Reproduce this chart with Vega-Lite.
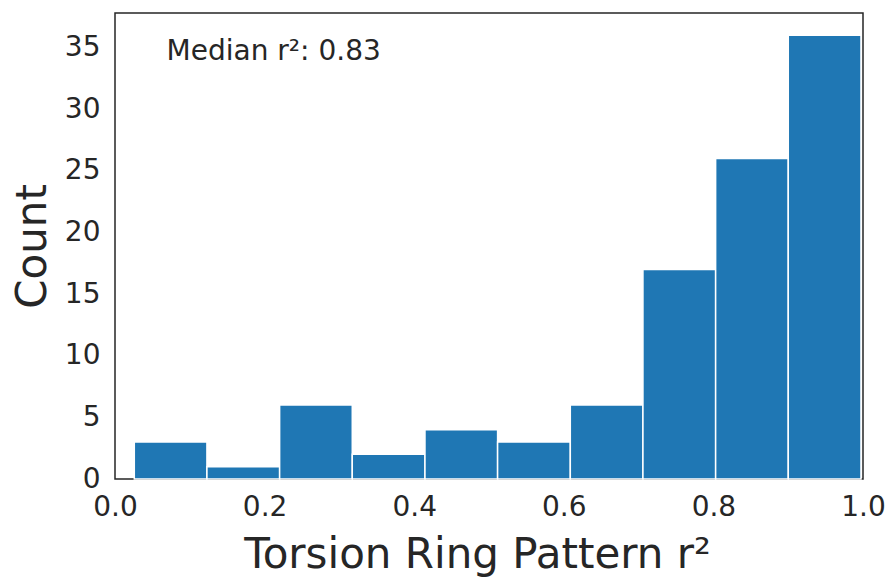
{
  "$schema": "https://vega.github.io/schema/vega-lite/v6.json",
  "autosize": "none",
  "width": 748,
  "height": 466,
  "padding": {"left": 115, "top": 13, "right": 28, "bottom": 98},
  "background": "white",
  "config": {
    "font": "DejaVu Sans",
    "view": {"stroke": "#262626", "strokeWidth": 1.5},
    "axis": {
      "domain": false,
      "grid": false,
      "ticks": false,
      "labelFlush": false,
      "labelOverlap": false,
      "labelFont": "DejaVu Sans",
      "labelFontSize": 28,
      "labelColor": "#262626",
      "titleFont": "DejaVu Sans",
      "titleFontSize": 42,
      "titleFontWeight": "normal",
      "titleColor": "#262626"
    }
  },
  "datasets": {
    "bins": [
      {"bin_start": 0.0258, "bin_end": 0.1229, "count": 3},
      {"bin_start": 0.1229, "bin_end": 0.2201, "count": 1},
      {"bin_start": 0.2201, "bin_end": 0.3172, "count": 6},
      {"bin_start": 0.3172, "bin_end": 0.4144, "count": 2},
      {"bin_start": 0.4144, "bin_end": 0.5115, "count": 4},
      {"bin_start": 0.5115, "bin_end": 0.6087, "count": 3},
      {"bin_start": 0.6087, "bin_end": 0.7058, "count": 6},
      {"bin_start": 0.7058, "bin_end": 0.8030, "count": 17},
      {"bin_start": 0.8030, "bin_end": 0.9001, "count": 26},
      {"bin_start": 0.9001, "bin_end": 0.9973, "count": 36}
    ],
    "note": [
      {"x": 0.069, "y": 34.6, "label": "Median r²: 0.83"}
    ]
  },
  "layer": [
    {
      "data": {"name": "bins"},
      "mark": {"type": "bar", "color": "#1f77b4", "stroke": "white", "strokeWidth": 1.5},
      "encoding": {
        "x": {
          "field": "bin_start",
          "type": "quantitative",
          "scale": {"domain": [0, 1], "nice": false, "zero": false},
          "axis": {
            "title": "Torsion Ring Pattern r²",
            "values": [0, 0.2, 0.4, 0.6, 0.8, 1.0],
            "format": ".1f",
            "labelPadding": 14,
            "titlePadding": 13,
            "titleX": 362
          }
        },
        "x2": {"field": "bin_end"},
        "y": {
          "field": "count",
          "type": "quantitative",
          "scale": {"domain": [0, 37.8], "nice": false},
          "axis": {
            "title": "Count",
            "values": [0, 5, 10, 15, 20, 25, 30, 35],
            "labelPadding": 15,
            "titlePadding": 10
          }
        },
        "y2": {"datum": 0}
      }
    },
    {
      "data": {"name": "note"},
      "mark": {"type": "text", "align": "left", "baseline": "middle", "fontSize": 28, "font": "DejaVu Sans", "color": "#262626"},
      "encoding": {
        "x": {"field": "x", "type": "quantitative"},
        "y": {"field": "y", "type": "quantitative"},
        "text": {"field": "label"}
      }
    }
  ]
}
